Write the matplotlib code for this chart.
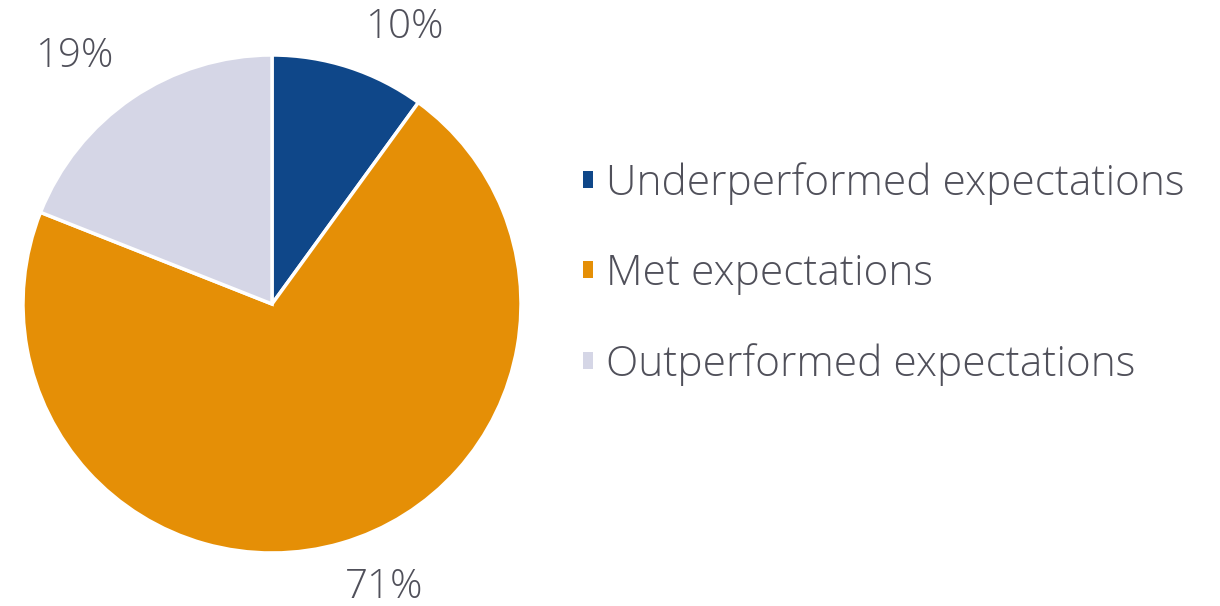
import matplotlib
matplotlib.use("agg")
import matplotlib.pyplot as plt

categories = ["Underperformed expectations", "Met expectations", "Outperformed expectations"]
shares = [10, 71, 19]
colors = ["#0f4789", "#e58f06", "#d5d6e6"]
label_xy = [(0.53, 1.11), (0.45, -1.14), (-0.795, 0.995)]

plt.rcParams['font.family'] = ['Open Sans', 'DejaVu Sans']
plt.rcParams['font.weight'] = 'light'
text_color = "#50505a"

fig = plt.figure(figsize=(12.2, 6.06), dpi=100)
cx, cy, r = 272, 304, 249
ax = fig.add_axes([(cx - r) / 1220, (606 - cy - r) / 606, 2 * r / 1220, 2 * r / 606])

wedges, _ = ax.pie(shares, colors=colors, startangle=90, counterclock=False,
                   radius=1, wedgeprops=dict(edgecolor="white", linewidth=2.5))
ax.set_xlim(-1, 1)
ax.set_ylim(-1, 1)
ax.set_aspect("auto")
ax.axis("off")

for s, (x, y) in zip(shares, label_xy):
    ax.text(x, y, f"{s}%", ha="center", va="center", fontsize=29,
            color=text_color, clip_on=False)

leg = fig.legend(wedges, categories, loc="upper left",
                 bbox_to_anchor=(583 / 1220, 1 - 162 / 606),
                 frameon=False, fontsize=30.5, labelcolor=text_color,
                 handlelength=0.24, handleheight=0.24, handletextpad=0.3,
                 labelspacing=1.13, borderaxespad=0, borderpad=0)
for h in leg.legend_handles:
    h.set_linewidth(0)

fig.savefig("out.png", dpi=100)
plt.close(fig)
